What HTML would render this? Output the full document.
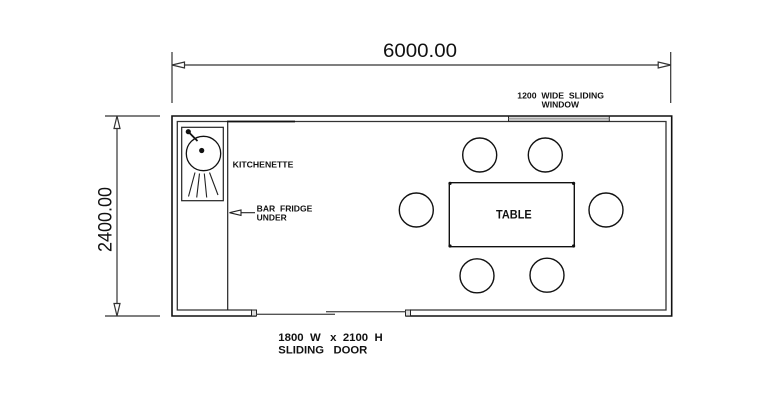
<!DOCTYPE html>
<html>
<head>
<meta charset="utf-8">
<style>
html,body{margin:0;padding:0;background:#fff;}
svg{display:block;}
text{font-family:"Liberation Sans",Arial,sans-serif;fill:#111;white-space:pre;}
</style>
</head>
<body>
<svg width="765" height="400" viewBox="0 0 765 400" xmlns="http://www.w3.org/2000/svg" xml:space="preserve">
  <rect x="0" y="0" width="765" height="400" fill="#fff"/>

  <!-- Top dimension -->
  <g stroke="#333" stroke-width="1.2" fill="none">
    <line x1="172" y1="52" x2="172" y2="103"/>
    <line x1="670.7" y1="52" x2="670.7" y2="103"/>
    <line x1="172" y1="65" x2="670.7" y2="65"/>
    <polygon points="172,65 184.5,62 184.5,68" fill="#fff"/>
    <polygon points="670.7,65 658.2,62 658.2,68" fill="#fff"/>
  </g>
  <text x="383" y="57" font-size="19.5" textLength="74" lengthAdjust="spacingAndGlyphs">6000.00</text>

  <!-- Left dimension -->
  <g stroke="#333" stroke-width="1.2" fill="none">
    <line x1="105" y1="116" x2="160" y2="116"/>
    <line x1="105" y1="316" x2="160" y2="316"/>
    <line x1="117" y1="116" x2="117" y2="316"/>
    <polygon points="117,116 114,128.5 120,128.5" fill="#fff"/>
    <polygon points="117,316 114,303.5 120,303.5" fill="#fff"/>
  </g>
  <text transform="translate(111.5,219.5) rotate(-90)" text-anchor="middle" font-size="19.5" textLength="65" lengthAdjust="spacingAndGlyphs">2400.00</text>

  <!-- Outer walls -->
  <g stroke="#111" stroke-width="1.6" fill="none">
    <polyline points="256,316 172,316 172,116 671.7,116 671.7,316 405.7,316"/>
  </g>
  <!-- Inner walls -->
  <g stroke="#333" stroke-width="1.3" fill="none">
    <polyline points="252,310 177.3,310 177.3,121.5 666,121.5 666,310 410,310"/>
  </g>
  <line x1="227" y1="121.5" x2="295" y2="121.5" stroke="#111" stroke-width="1.8"/>

  <!-- Window -->
  <rect x="508.5" y="116.3" width="100.8" height="5" fill="#d8d8d8" stroke="#222" stroke-width="1"/>
  <line x1="508.5" y1="118.8" x2="609.3" y2="118.8" stroke="#888" stroke-width="0.8"/>

  <!-- Door caps -->
  <rect x="251.5" y="310" width="5" height="6" fill="#ddd" stroke="#222" stroke-width="1"/>
  <rect x="405.5" y="310" width="5" height="6" fill="#ddd" stroke="#222" stroke-width="1"/>
  <!-- Door panels -->
  <line x1="256.5" y1="314.3" x2="335" y2="314.3" stroke="#555" stroke-width="1.3"/>
  <line x1="326" y1="311.7" x2="405.5" y2="311.7" stroke="#555" stroke-width="1.3"/>

  <!-- Kitchen counter -->
  <line x1="227.7" y1="121.5" x2="227.7" y2="310" stroke="#222" stroke-width="1.2"/>
  <!-- Sink -->
  <rect x="181.7" y="127.3" width="41.6" height="73.4" fill="none" stroke="#222" stroke-width="1.2"/>
  <circle cx="203.5" cy="153.5" r="17.2" fill="none" stroke="#111" stroke-width="1.3"/>
  <circle cx="201.7" cy="150.5" r="2.6" fill="#111"/>
  <circle cx="188.3" cy="131.7" r="2.6" fill="#111"/>
  <line x1="188.3" y1="131.7" x2="197.5" y2="141" stroke="#111" stroke-width="1.8"/>
  <g stroke="#222" stroke-width="1.1">
    <line x1="195" y1="172.5" x2="188.5" y2="196.5"/>
    <line x1="199.5" y1="173.5" x2="196.7" y2="197.5"/>
    <line x1="204.3" y1="173.5" x2="206.7" y2="197.5"/>
    <line x1="209.5" y1="172.5" x2="218" y2="195"/>
  </g>

  <text x="232.7" y="167.3" font-size="8.5" font-weight="bold" textLength="60.7" lengthAdjust="spacingAndGlyphs">KITCHENETTE</text>

  <!-- Bar fridge arrow -->
  <g stroke="#222" stroke-width="1.1" fill="#fff">
    <line x1="240" y1="212.7" x2="255" y2="212.7"/>
    <polygon points="229.5,212.7 241,210 241,215.4"/>
  </g>
  <text x="256.7" y="211.3" font-size="8.3" font-weight="bold" textLength="55.7" lengthAdjust="spacingAndGlyphs">BAR  FRIDGE</text>
  <text x="256.7" y="220.3" font-size="8.3" font-weight="bold" textLength="30" lengthAdjust="spacingAndGlyphs">UNDER</text>

  <!-- Window label -->
  <text x="517.3" y="98.7" font-size="7.8" font-weight="bold" textLength="86.7" lengthAdjust="spacingAndGlyphs">1200  WIDE  SLIDING</text>
  <text x="541.7" y="107.7" font-size="7.8" font-weight="bold" textLength="37.3" lengthAdjust="spacingAndGlyphs">WINDOW</text>

  <!-- Door label -->
  <text x="278.3" y="341" font-size="11.3" font-weight="bold" textLength="104.4" lengthAdjust="spacingAndGlyphs">1800  W   x  2100  H</text>
  <text x="278.3" y="353.3" font-size="11.3" font-weight="bold" textLength="89" lengthAdjust="spacingAndGlyphs">SLIDING   DOOR</text>

  <!-- Chairs -->
  <g fill="none" stroke="#111" stroke-width="1.4">
    <circle cx="479.7" cy="155" r="17"/>
    <circle cx="545.3" cy="155" r="17"/>
    <circle cx="416.3" cy="210" r="17"/>
    <circle cx="606" cy="210" r="17"/>
    <circle cx="477" cy="275.8" r="17"/>
    <circle cx="547" cy="275.2" r="17"/>
  </g>
  <!-- Table -->
  <rect x="449.3" y="182.7" width="125" height="64" rx="2" fill="none" stroke="#111" stroke-width="1.4"/>
  <g fill="#111">
    <circle cx="450" cy="183.4" r="1.6"/>
    <circle cx="573.6" cy="183.4" r="1.6"/>
    <circle cx="450" cy="246" r="1.6"/>
    <circle cx="573.6" cy="246" r="1.6"/>
  </g>
  <text x="496" y="218.3" font-size="12.3" font-weight="bold" textLength="35.7" lengthAdjust="spacingAndGlyphs">TABLE</text>
</svg>
</body>
</html>
